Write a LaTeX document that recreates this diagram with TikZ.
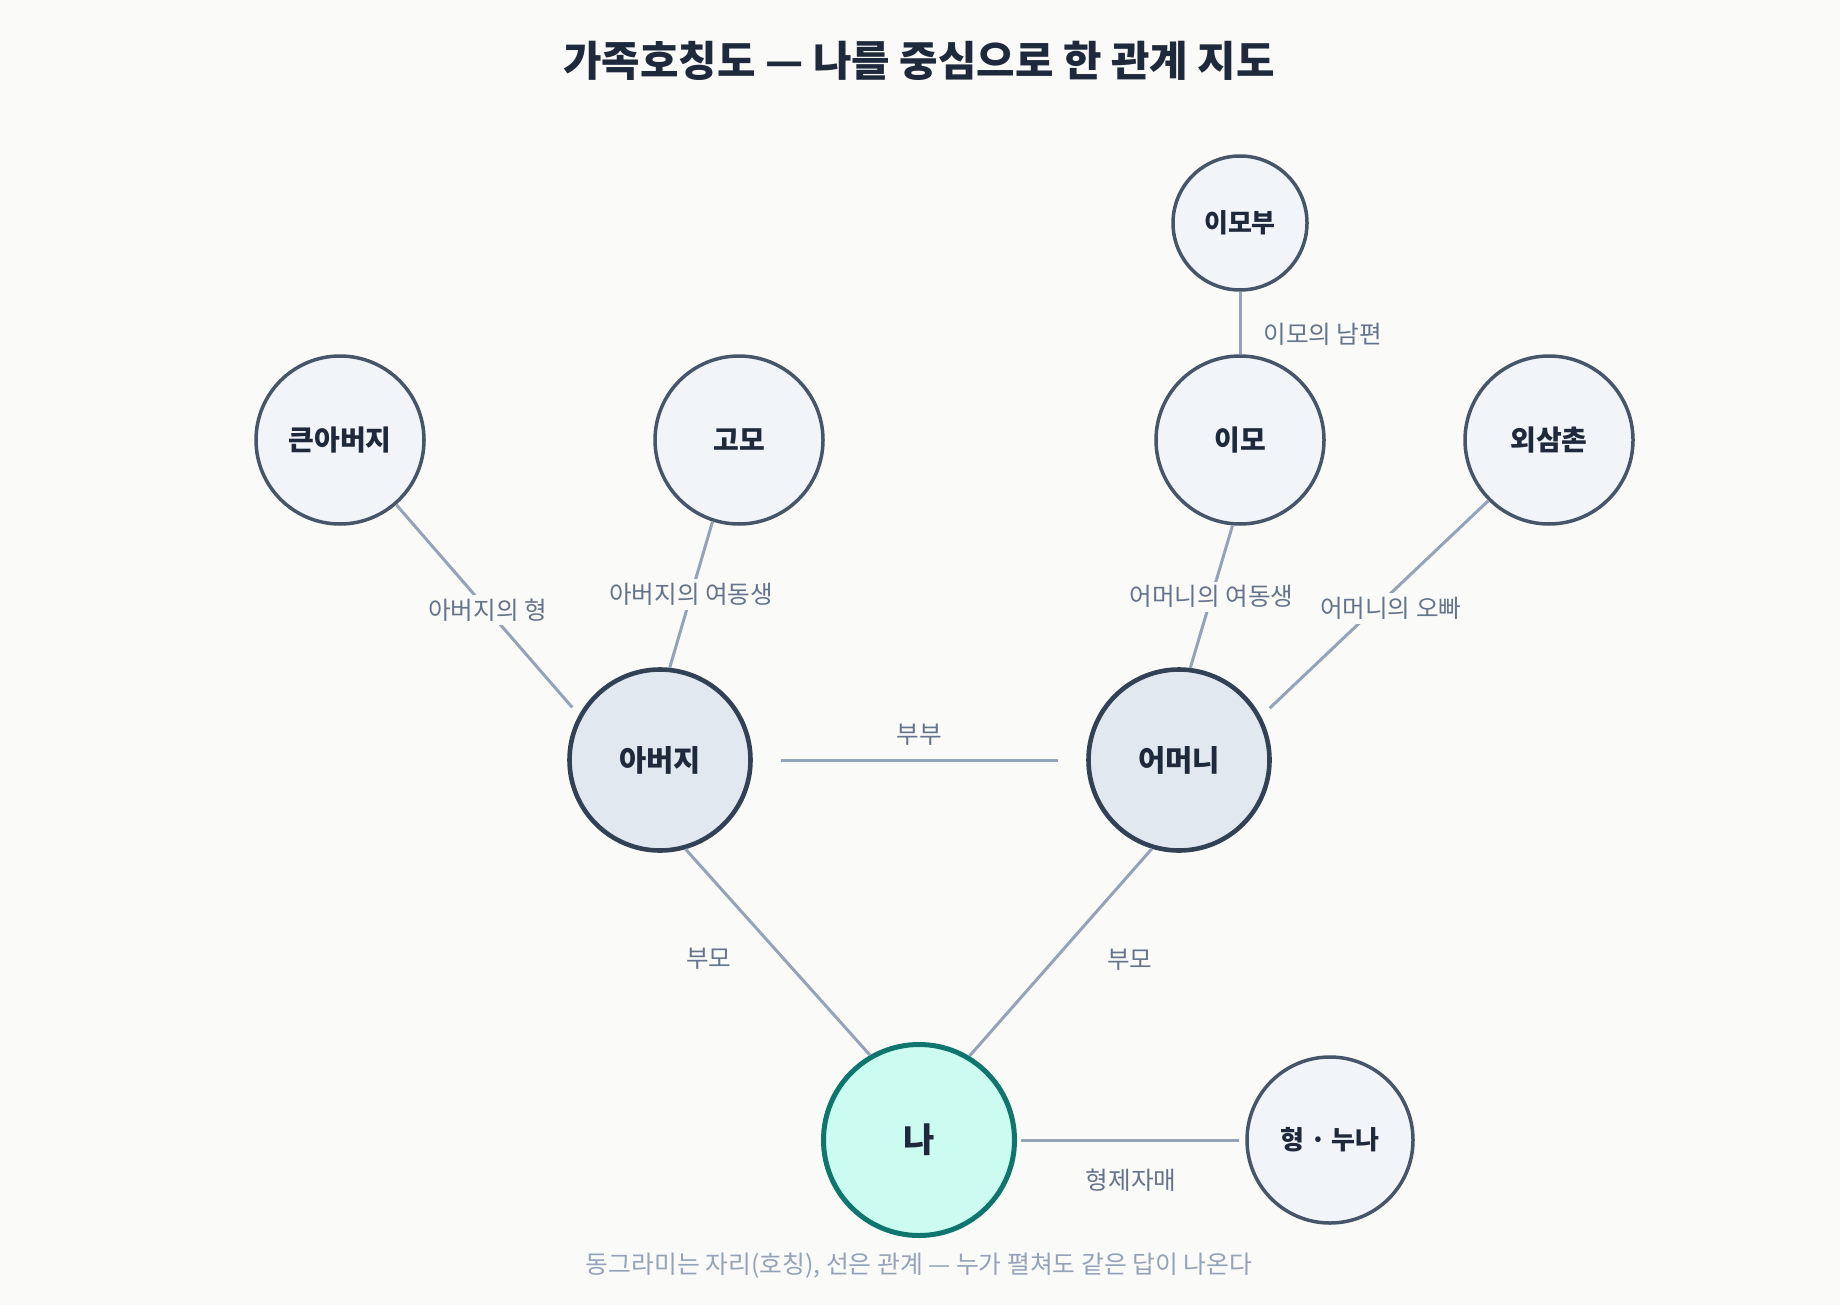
\documentclass[tikz,border=0pt]{standalone}
\usepackage{fontspec}
\setmainfont{Noto Sans CJK KR}
\usepackage{tikz}
\definecolor{PageBg}{HTML}{FAFAF9}
\definecolor{InkDark}{HTML}{1E293B}
\definecolor{PersonFill}{HTML}{F1F5F9}
\definecolor{PersonLine}{HTML}{475569}
\definecolor{ParentFill}{HTML}{E2E8F0}
\definecolor{ParentLine}{HTML}{334155}
\definecolor{MeFill}{HTML}{CCFBF1}
\definecolor{MeLine}{HTML}{0F766E}
\definecolor{RelLine}{HTML}{94A3B8}
\definecolor{TagInk}{HTML}{64748B}
\definecolor{NoteInk}{HTML}{94A3B8}

\begin{document}
\begin{tikzpicture}[x=0.5pt,y=-0.5pt,
  person/.style={circle,draw=PersonLine,fill=PersonFill,line width=1.75pt,
    minimum size=84pt,inner sep=0pt,text=InkDark,
    font=\bfseries\fontsize{14}{16}\selectfont},
  parent/.style={person,draw=ParentLine,fill=ParentFill,line width=2.3pt,
    minimum size=90.5pt,font=\bfseries\fontsize{14.8}{17}\selectfont},
  me/.style={person,draw=MeLine,fill=MeFill,line width=2.5pt,
    minimum size=95.5pt,font=\bfseries\fontsize{17}{20}\selectfont},
  rel/.style={draw=RelLine,line width=1.5pt},
  tag/.style={text=TagInk,fill=PageBg,inner sep=2pt,
    font=\fontsize{12.3}{14}\selectfont}]
  \fill[PageBg] (0,0) rectangle (1840,1305);
  \useasboundingbox (0,0) rectangle (1840,1305);
  % title
  \node[text=InkDark,font=\bfseries\fontsize{20.9}{25}\selectfont] (title) at (919,61)
    {가족호칭도 — 나를 중심으로 한 관계 지도};
  % places
  \node[person,minimum size=67pt,font=\bfseries\fontsize{13}{15}\selectfont] (imobu) at (1240,223) {이모부};
  \node[person] (kun) at (340,440) {큰아버지};
  \node[person] (gomo) at (739,440) {고모};
  \node[person] (imo) at (1240,440) {이모};
  \node[person] (samchon) at (1549,440) {외삼촌};
  \node[parent] (abeoji) at (660,760) {아버지};
  \node[parent] (eomeoni) at (1179,760) {어머니};
  \node[me] (na) at (919,1140) {나};
  \node[person,minimum size=83pt,font=\bfseries\fontsize{13}{15}\selectfont] (sibling) at (1330,1140) {형 · 누나};
  % relations
  \draw[rel,shorten >=5pt] (kun.311) -- (abeoji.151) node[tag,midway] {아버지의 형};
  \draw[rel] (gomo.252.5) -- (abeoji.84) node[tag,midway] {아버지의 여동생};
  \draw[rel] (imo.265.5) -- (eomeoni.83.5) node[tag,midway] {어머니의 여동생};
  \draw[rel,shorten >=6pt] (samchon.225) -- (eomeoni.28.5) node[tag,midway,xshift=8pt] {어머니의 오빠};
  \draw[rel] (imobu) -- (imo) node[tag,midway,anchor=west,xshift=9pt,yshift=-5.5pt] {이모의 남편};
  \draw[rel,shorten <=14pt,shorten >=14pt] (abeoji) -- (eomeoni) node[tag,midway,yshift=12.5pt] {부부};
  \draw[rel] (abeoji.286.5) -- (na.120.5) node[tag,midway,xshift=-34.5pt,yshift=-3.5pt] {부모};
  \draw[rel] (eomeoni.253.5) -- (na.59.5) node[tag,midway,xshift=34.5pt,yshift=-3.5pt] {부모};
  \draw[rel,shorten <=2pt,shorten >=3pt] (na) -- (sibling) node[tag,midway,yshift=-20pt] {형제자매};
  % footnote
  \node[text=NoteInk,font=\fontsize{12.4}{15}\selectfont] (note) at (919,1266)
    {동그라미는 자리(호칭), 선은 관계 — 누가 펼쳐도 같은 답이 나온다};
\end{tikzpicture}
\end{document}
